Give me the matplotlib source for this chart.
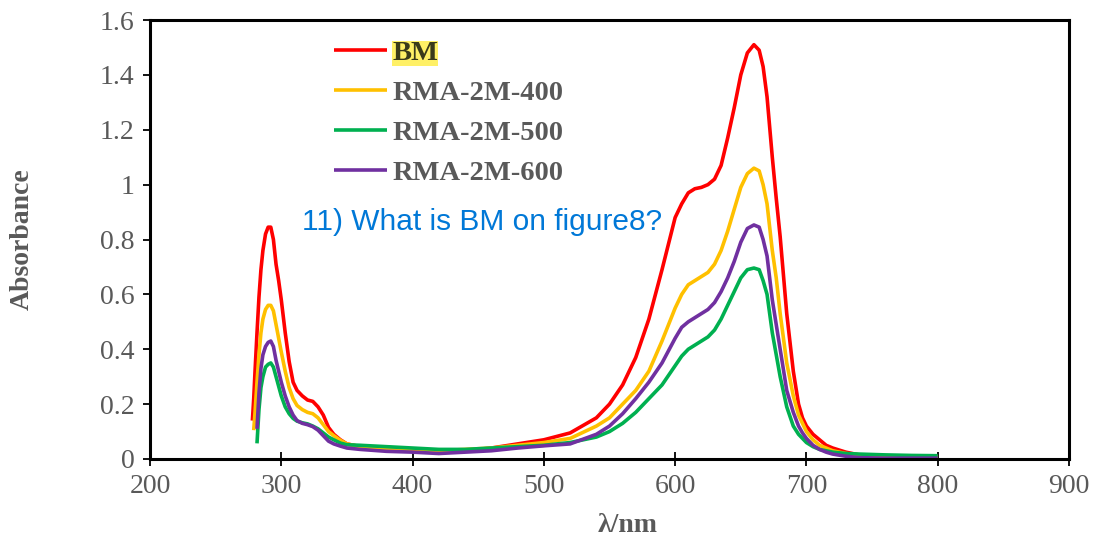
import matplotlib.pyplot as plt
import numpy as np
from matplotlib.ticker import FuncFormatter

nan = np.nan

# wavelength grid (nm)
wl = [278, 279, 280, 281.5, 283, 284.5, 286, 288, 290, 292, 294, 296, 298, 300,
      303, 306, 309, 312, 316, 320, 324, 328, 332, 336, 340, 345, 350, 360,
      380, 400, 420, 440, 460, 480, 500, 520, 540, 550, 560, 570, 580, 590,
      600, 605, 610, 615, 620, 625, 630, 635, 640, 645, 650, 655, 660, 664,
      667, 670, 674, 677, 680, 685, 690, 694, 697, 700, 705, 710, 715, 720,
      730, 740, 760, 780, 800]

bm = [0.14, 0.22, 0.32, 0.46, 0.59, 0.69, 0.76, 0.82, 0.845, 0.845, 0.80, 0.71, 0.65, 0.58,
      0.46, 0.355, 0.28, 0.25, 0.23, 0.215, 0.21, 0.19, 0.16, 0.115, 0.09, 0.07, 0.055, 0.045,
      0.035, 0.03, 0.025, 0.03, 0.04, 0.055, 0.07, 0.095, 0.15, 0.2, 0.27, 0.37, 0.51, 0.69,
      0.88, 0.93, 0.97, 0.985, 0.99, 1.0, 1.02, 1.07, 1.17, 1.28, 1.40, 1.48, 1.51, 1.49,
      1.43, 1.32, 1.10, 0.95, 0.81, 0.53, 0.32, 0.20, 0.15, 0.12, 0.09, 0.07, 0.05, 0.04,
      0.025, 0.015, 0.01, 0.008, 0.005]

rma400 = [nan, 0.105, 0.17, 0.28, 0.38, 0.46, 0.51, 0.545, 0.56, 0.56, 0.54, 0.49, 0.44, 0.39,
          0.32, 0.26, 0.22, 0.195, 0.18, 0.17, 0.165, 0.15, 0.125, 0.10, 0.085, 0.068, 0.055, 0.045,
          0.035, 0.03, 0.03, 0.035, 0.04, 0.05, 0.06, 0.075, 0.12, 0.15, 0.2, 0.25, 0.32, 0.43,
          0.55, 0.60, 0.635, 0.65, 0.665, 0.68, 0.71, 0.76, 0.83, 0.91, 0.99, 1.04, 1.06, 1.05,
          1.0, 0.93, 0.76, 0.66, 0.53, 0.35, 0.23, 0.16, 0.13, 0.10, 0.07, 0.05, 0.04, 0.03,
          0.02, 0.015, 0.012, 0.01, 0.008]

rma500 = [nan, nan, nan, 0.057, 0.18, 0.26, 0.30, 0.335, 0.345, 0.35, 0.335, 0.30, 0.265, 0.23,
          0.19, 0.165, 0.148, 0.138, 0.132, 0.128, 0.12, 0.11, 0.095, 0.08, 0.07, 0.058, 0.052, 0.05,
          0.045, 0.04, 0.035, 0.035, 0.04, 0.045, 0.05, 0.06, 0.08, 0.10, 0.13, 0.17, 0.22, 0.27,
          0.34, 0.375, 0.40, 0.415, 0.43, 0.445, 0.47, 0.51, 0.56, 0.61, 0.66, 0.69, 0.696, 0.69,
          0.65, 0.60, 0.46, 0.38, 0.30, 0.19, 0.12, 0.09, 0.075, 0.06, 0.045, 0.035, 0.03, 0.025,
          0.02, 0.018, 0.015, 0.013, 0.012]

rma600 = [nan, nan, nan, 0.11, 0.24, 0.33, 0.38, 0.41, 0.425, 0.43, 0.41, 0.36, 0.32, 0.28,
          0.23, 0.19, 0.16, 0.14, 0.13, 0.125, 0.118, 0.105, 0.085, 0.065, 0.055, 0.047, 0.04, 0.035,
          0.028, 0.025, 0.02, 0.025, 0.03, 0.04, 0.048, 0.055, 0.09, 0.12, 0.165, 0.22, 0.28, 0.35,
          0.44, 0.48, 0.50, 0.515, 0.53, 0.545, 0.57, 0.61, 0.66, 0.72, 0.79, 0.84, 0.853, 0.845,
          0.80, 0.74, 0.58, 0.49, 0.40, 0.25, 0.17, 0.12, 0.095, 0.075, 0.05, 0.035, 0.025, 0.018,
          0.01, 0.005, 0.003, 0.003, 0.003]

labels = ['BM', 'RMA-2M-400', 'RMA-2M-500', 'RMA-2M-600']
colors = ['#FF0000', '#FFC000', '#00B050', '#7030A0']
series = [bm, rma400, rma500, rma600]

gray = '#595959'
serif = ['Liberation Serif', 'DejaVu Serif']

fig = plt.figure(figsize=(10.97, 5.45), dpi=100)
ax = fig.add_axes([150 / 1097, 1 - 459 / 545, 919 / 1097, 439 / 545])

for y, c, lab in zip(series, colors, labels):
    ax.plot(wl, y, color=c, lw=2.6, label=lab, solid_capstyle='butt')

ax.set_xlim(200, 900)
ax.set_ylim(0, 1.6)
ax.set_xticks(np.arange(200, 901, 100))
ax.set_yticks(np.arange(0, 1.61, 0.2))
ax.yaxis.set_major_formatter(FuncFormatter(lambda v, p: '%g' % round(v, 1)))

for s in ax.spines.values():
    s.set_linewidth(2.2)
    s.set_color('black')
ax.tick_params(axis='x', direction='inout', length=10, width=1.3, pad=6, labelsize=20, labelcolor=gray)
ax.tick_params(axis='y', direction='out', length=5, width=1.3, pad=6, labelsize=20, labelcolor=gray)
for t in ax.get_xticklabels() + ax.get_yticklabels():
    t.set_family(serif)

ax.set_xlabel('λ/nm', family=serif, fontweight='bold', fontsize=20, color=gray)
ax.set_ylabel('Absorbance', family=serif, fontweight='bold', fontsize=20, color=gray)
ax.xaxis.set_label_coords(0.52, -0.122)
ax.yaxis.set_label_coords(-0.125, 0.5)

leg = ax.legend(loc='upper left', bbox_to_anchor=(334 / 1097, 1 - 40 / 545),
                bbox_transform=fig.transFigure, frameon=False, borderpad=0,
                borderaxespad=0, handlelength=1.85, handletextpad=0.2,
                labelspacing=0.5, prop={'family': serif, 'weight': 'bold', 'size': 20.5})
for t in leg.get_texts():
    t.set_color(gray)
leg.get_texts()[0].set_color('#3A3A1A')
leg.get_texts()[0].set_bbox(dict(facecolor='#FFF066', edgecolor='none', pad=0))

fig.text(302 / 1097, 1 - 222 / 545, '11) What is BM on figure8?', color='#0078D7',
         fontsize=21.5, family=['Liberation Sans', 'DejaVu Sans'], va='center', ha='left')

fig.savefig('out.png', dpi=100)
